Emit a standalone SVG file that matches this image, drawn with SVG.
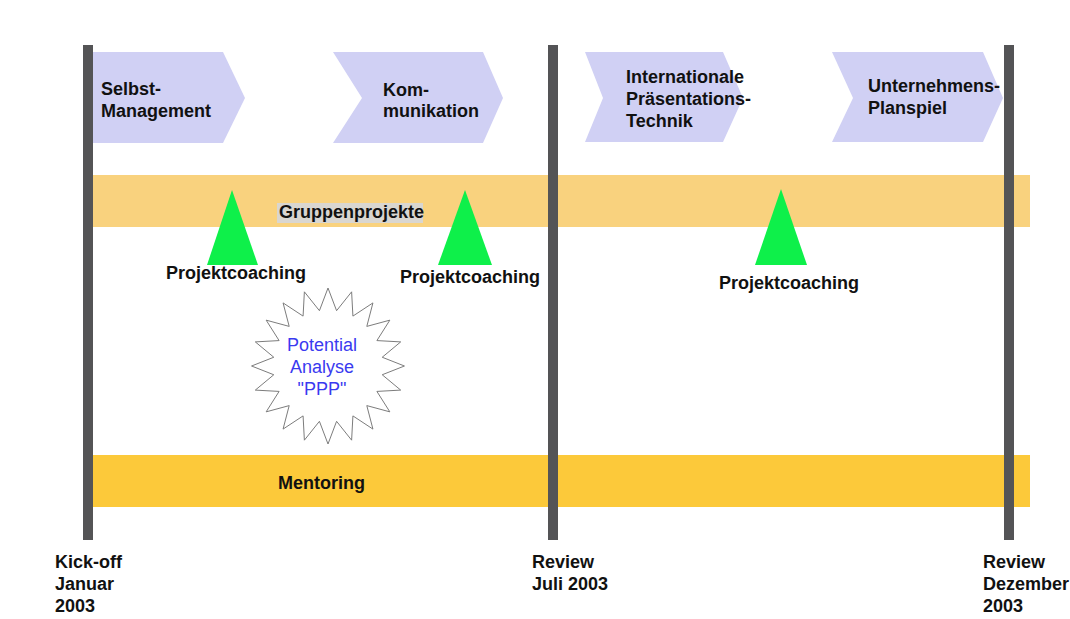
<svg xmlns="http://www.w3.org/2000/svg" width="1070" height="619" viewBox="0 0 1070 619">
<style>
.t{font-family:"Liberation Sans",Arial,sans-serif;font-size:18px;font-weight:bold;fill:#111}
.chev{fill:#d0d0f4}
.vbar{fill:#545456}
.tri{fill:#0ef04a}
.blue{font-family:"Liberation Sans",Arial,sans-serif;font-size:18px;fill:#3a3af0;text-anchor:middle}
</style>
<rect width="1070" height="619" fill="#ffffff"/>
<g id="chevron-selbst">
<polygon class="chev" points="90,52 223,52 245,98 223,143 90,143"/>
<text class="t" x="101" y="95">Selbst-</text>
<text class="t" x="101" y="117">Management</text>
</g>
<g id="chevron-kommunikation">
<polygon class="chev" points="333,52 483,52 503,98 483,143 333,143 362,98"/>
<text class="t" x="383" y="96">Kom-</text>
<text class="t" x="383" y="117">munikation</text>
</g>
<g id="chevron-praesentation">
<polygon class="chev" points="585,52 723,52 743,98 723,142 585,142 603,98"/>
<text class="t" x="626" y="83">Internationale</text>
<text class="t" x="626" y="105">Präsentations-</text>
<text class="t" x="626" y="127">Technik</text>
</g>
<g id="chevron-planspiel">
<polygon class="chev" points="832,52 983,52 1003,98 983,142 832,142 853,98"/>
<text class="t" x="868" y="92">Unternehmens-</text>
<text class="t" x="868" y="114">Planspiel</text>
</g>
<g id="bar-gruppenprojekte">
<rect x="93" y="175" width="937" height="52" fill="#f9d27e"/>
<rect x="277" y="203" width="146" height="20" fill="#d9d6d0"/>
<text class="t" x="279" y="218">Gruppenprojekte</text>
</g>
<g id="bar-mentoring">
<rect x="93" y="455" width="937" height="52" fill="#fcc93a"/>
<text class="t" x="278" y="489">Mentoring</text>
</g>
<g id="coaching-1">
<polygon class="tri" points="232,190 258,265 207,265"/>
<text class="t" x="166" y="279">Projektcoaching</text>
</g>
<g id="coaching-2">
<polygon class="tri" points="465,190 492,265 438,265"/>
<text class="t" x="400" y="283">Projektcoaching</text>
</g>
<g id="coaching-3">
<polygon class="tri" points="781,189 807,265 755,265"/>
<text class="t" x="719" y="289">Projektcoaching</text>
</g>
<g id="potential-analyse">
<polygon transform="translate(328,366) scale(0.98,1)" fill="#ffffff" stroke="#7a7a7a" stroke-width="1" points="78,0 55.31,8.76 74.18,24.10 49.90,25.42 63.10,45.85 39.60,39.60 45.85,63.10 25.42,49.90 24.10,74.18 8.76,55.31 0,78 -8.76,55.31 -24.10,74.18 -25.42,49.90 -45.85,63.10 -39.60,39.60 -63.10,45.85 -49.90,25.42 -74.18,24.10 -55.31,8.76 -78,0 -55.31,-8.76 -74.18,-24.10 -49.90,-25.42 -63.10,-45.85 -39.60,-39.60 -45.85,-63.10 -25.42,-49.90 -24.10,-74.18 -8.76,-55.31 0,-78 8.76,-55.31 24.10,-74.18 25.42,-49.90 45.85,-63.10 39.60,-39.60 63.10,-45.85 49.90,-25.42 74.18,-24.10 55.31,-8.76"/>
<text class="blue" x="322" y="351">Potential</text>
<text class="blue" x="322" y="373">Analyse</text>
<text class="blue" x="322" y="395">"PPP"</text>
</g>
<g id="milestone-kickoff">
<rect class="vbar" x="83" y="45" width="10" height="495"/>
<text class="t" x="55" y="568">Kick-off</text>
<text class="t" x="55" y="590">Januar</text>
<text class="t" x="55" y="612">2003</text>
</g>
<g id="milestone-juli">
<rect class="vbar" x="548" y="45" width="10" height="495"/>
<text class="t" x="532" y="568">Review</text>
<text class="t" x="532" y="590">Juli 2003</text>
</g>
<g id="milestone-dezember">
<rect class="vbar" x="1004" y="45" width="10" height="495"/>
<text class="t" x="983" y="568">Review</text>
<text class="t" x="983" y="590">Dezember</text>
<text class="t" x="983" y="612">2003</text>
</g>
<g id="connectors"/>
</svg>
